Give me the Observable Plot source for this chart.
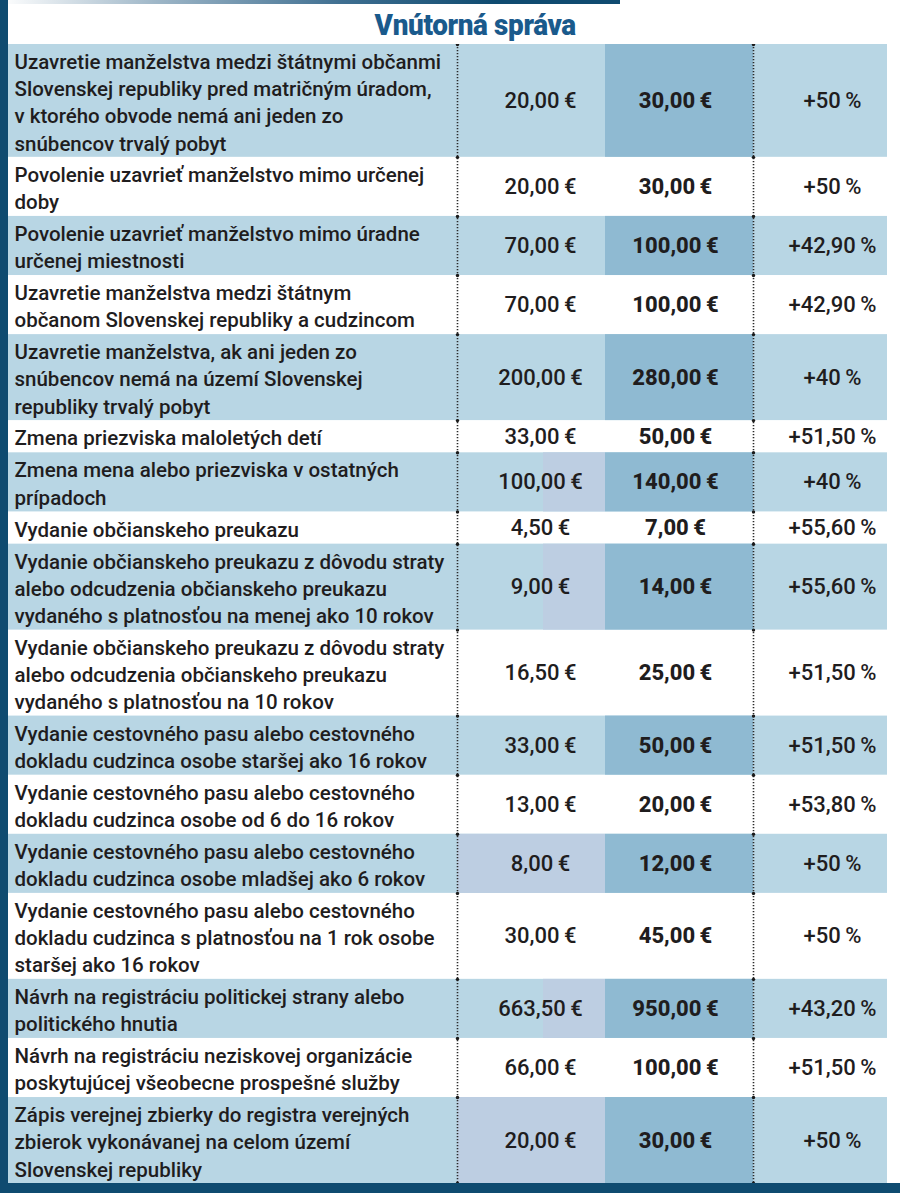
<!DOCTYPE html>
<html><head><meta charset="utf-8">
<script src="https://cdn.jsdelivr.net/npm/d3@7"></script>
<script src="https://cdn.jsdelivr.net/npm/@observablehq/plot@0.6"></script>
<style>
body{margin:0;background:#fff;}
#wrap{position:relative;width:900px;height:1193px;overflow:hidden;font-family:Roboto,"Noto Sans",sans-serif;background:#fff;}
#leftbar{position:absolute;left:0;top:0;width:8px;height:1193px;background:#0f4b70;}
#topbar{position:absolute;left:0;top:0;width:620px;height:4px;background:linear-gradient(to right,#ffffff 0%,#9fb7c8 25%,#3f6f91 55%,#0f4b70 80%);}
#bottombar{position:absolute;left:0;top:1183px;width:900px;height:10px;background:#0f4b70;}
#title{position:absolute;left:0;top:8px;width:950px;text-align:center;margin:0;}
#title span{display:inline-block;font-family:Roboto,sans-serif;font-weight:900;font-size:30px;color:#1a5a8c;transform:scaleX(0.93);letter-spacing:-0.4px;line-height:34px;}
#chart{position:absolute;left:0;top:44px;}
</style>
</head><body>
<div id="wrap">
  <div id="topbar"></div>
  <div id="title"><span>Vnútorná správa</span></div>
  <div id="chart"></div>
  <div id="leftbar"></div>
  <div id="bottombar"></div>
</div>
<script>
// ---- data ----
const descriptions = [
  "Uzavretie manželstva medzi štátnymi občanmi\nSlovenskej republiky pred matričným úradom,\nv ktorého obvode nemá ani jeden zo\nsnúbencov trvalý pobyt",
  "Povolenie uzavrieť manželstvo mimo určenej\ndoby",
  "Povolenie uzavrieť manželstvo mimo úradne\nurčenej miestnosti",
  "Uzavretie manželstva medzi štátnym\nobčanom Slovenskej republiky a cudzincom",
  "Uzavretie manželstva, ak ani jeden zo\nsnúbencov nemá na území Slovenskej\nrepubliky trvalý pobyt",
  "Zmena priezviska maloletých detí",
  "Zmena mena alebo priezviska v ostatných\nprípadoch",
  "Vydanie občianskeho preukazu",
  "Vydanie občianskeho preukazu z dôvodu straty\nalebo odcudzenia občianskeho preukazu\nvydaného s platnosťou na menej ako 10 rokov",
  "Vydanie občianskeho preukazu z dôvodu straty\nalebo odcudzenia občianskeho preukazu\nvydaného s platnosťou na 10 rokov",
  "Vydanie cestovného pasu alebo cestovného\ndokladu cudzinca osobe staršej ako 16 rokov",
  "Vydanie cestovného pasu alebo cestovného\ndokladu cudzinca osobe od 6 do 16 rokov",
  "Vydanie cestovného pasu alebo cestovného\ndokladu cudzinca osobe mladšej ako 6 rokov",
  "Vydanie cestovného pasu alebo cestovného\ndokladu cudzinca s platnosťou na 1 rok osobe\nstaršej ako 16 rokov",
  "Návrh na registráciu politickej strany alebo\npolitického hnutia",
  "Návrh na registráciu neziskovej organizácie\nposkytujúcej všeobecne prospešné služby",
  "Zápis verejnej zbierky do registra verejných\nzbierok vykonávanej na celom území\nSlovenskej republiky"
];
const oldFees = [20, 20, 70, 70, 200, 33, 100, 4.5, 9, 16.5, 33, 13, 8, 30, 663.5, 66, 20];
const newFees = [30, 30, 100, 100, 280, 50, 140, 7, 14, 25, 50, 20, 12, 45, 950, 100, 30];
const increases = [50, 50, 42.9, 42.9, 40, 51.5, 40, 55.6, 55.6, 51.5, 51.5, 53.8, 50, 50, 43.2, 51.5, 50];

// ---- layout / style (not data) ----
const TABLE_H = 1139;
const ROW_PAD = 0.2;              // extra height per row, in line units
const COL = {descX: 14, left: 8, sep1: 457, tint: 543, newL: 605, sep2: 753, right: 887, oldC: 540, newC: 675, pctC: 832};
const LIGHT = "#b8d6e4", DARK = "#8fbad2", LAV = "#bdcee2", INK = "#1f1d1e";
const tintFull = new Set([12, 16]);     // row indices with lavender old-fee cell
const tintHalf = new Set([6, 8, 14]);

const euro = v => v.toFixed(2).replace(".", ",") + "\u2009€";
const pct = v => "+" + (Number.isInteger(v) ? String(v) : v.toFixed(2).replace(".", ",")) + "\u2009%";

let acc = 0;
const rows = descriptions.map((d, i) => {
  const lines = d.split("\n").length;
  const y1 = acc; acc += lines + ROW_PAD;
  return {i, desc: d, old: euro(oldFees[i]), nw: euro(newFees[i]), pct: pct(increases[i]), y1, y2: acc, ym: (y1 + acc) / 2, shaded: i % 2 === 0};
});
const total = acc;

const cells = [];
for (const r of rows) {
  if (!r.shaded) continue;
  cells.push({x1: COL.left, x2: COL.right, y1: r.y1, y2: r.y2, fill: LIGHT});
  cells.push({x1: COL.newL, x2: COL.sep2, y1: r.y1, y2: r.y2, fill: DARK});
  if (tintFull.has(r.i)) cells.push({x1: COL.sep1, x2: COL.newL, y1: r.y1, y2: r.y2, fill: LAV});
  if (tintHalf.has(r.i)) cells.push({x1: COL.tint, x2: COL.newL, y1: r.y1, y2: r.y2, fill: LAV});
}
const boundaries = [0, ...rows.map(r => r.y2)];
const dots = [];
for (const b of boundaries) for (const x of [COL.sep1, COL.sep2]) dots.push({x, y: b});

const chart = Plot.plot({
  width: 900,
  height: TABLE_H,
  margin: 0,
  x: {type: "linear", domain: [0, 900], range: [0, 900], axis: null},
  y: {type: "linear", domain: [0, total], range: [0, TABLE_H], axis: null},
  color: {type: "identity"},
  style: {fontFamily: "Roboto, 'Noto Sans', sans-serif", background: "transparent"},
  marks: [
    Plot.rect(cells, {x1: "x1", x2: "x2", y1: "y1", y2: "y2", fill: "fill"}),
    Plot.ruleX([COL.sep1, COL.sep2], {y1: 0, y2: total, stroke: "#2a2a2a", strokeWidth: 1.6, strokeDasharray: "1.2,1.8"}),
    Plot.dot(dots, {x: "x", y: "y", r: 1.7, fill: "#1a1a1a", stroke: null}),
    Plot.text(rows, {x: () => COL.descX, y: "ym", text: "desc", textAnchor: "start", lineAnchor: "middle", lineHeight: 1.33, fontSize: 20.5, fontWeight: 500, fill: INK}),
    Plot.text(rows, {x: () => COL.oldC, y: "ym", text: "old", textAnchor: "middle", lineAnchor: "middle", fontSize: 22, fontWeight: 500, fill: INK}),
    Plot.text(rows, {x: () => COL.newC, y: "ym", text: "nw", textAnchor: "middle", lineAnchor: "middle", fontSize: 22, fontWeight: 800, fill: INK}),
    Plot.text(rows, {x: () => COL.pctC, y: "ym", text: "pct", textAnchor: "middle", lineAnchor: "middle", fontSize: 22, fontWeight: 500, fill: INK})
  ]
});
document.getElementById("chart").appendChild(chart);
</script>
</body></html>
